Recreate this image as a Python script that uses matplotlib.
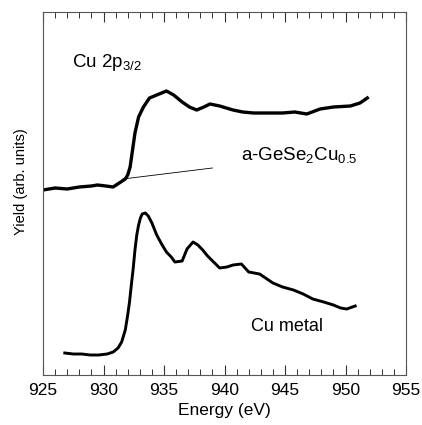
import matplotlib
matplotlib.use("Agg")
import matplotlib.pyplot as plt
from matplotlib.ticker import MultipleLocator
from matplotlib import font_manager

plt.rcParams['font.family'] = ['Liberation Sans', 'DejaVu Sans']
plt.rcParams['mathtext.default'] = 'regular'

# a-GeSe2Cu0.5 spectrum (energy eV, yield arb.)
gese_e = [925.0, 926.0, 927.0, 928.0, 929.0, 929.5, 930.2, 930.8, 931.3, 931.8, 932.0,
          932.2, 932.4, 932.6, 932.9, 933.3, 933.8, 934.4, 935.2, 935.8, 936.5, 937.1,
          937.7, 938.3, 938.8, 939.6, 940.7, 941.5, 942.4, 943.5, 944.8, 945.8, 946.8,
          947.9, 949.0, 950.4, 951.2, 951.8]
gese_y = [185, 187, 186, 188, 189, 190, 189, 188, 192, 196, 200,
          208, 225, 242, 258, 268, 277, 280, 284, 280, 273, 268,
          265, 268, 271, 269, 265, 263, 262, 262, 262, 263, 261,
          266, 268, 269, 272, 277]

# linear background under the a-GeSe2Cu0.5 edge
bg_e = [931.6, 939.0]
bg_y = [196, 207]

# Cu metal spectrum
cu_e = [926.8, 927.5, 928.2, 928.9, 929.6, 930.3, 930.8, 931.2, 931.5, 931.8, 932.0,
        932.15, 932.3, 932.45, 932.6, 932.75, 932.9, 933.05, 933.2, 933.45, 933.7,
        934.0, 934.4, 934.8, 935.2, 935.6, 935.9, 936.5, 936.9, 937.4, 937.8, 938.2,
        938.6, 939.1, 939.6, 940.2, 940.7, 941.4, 942.0, 942.9, 944.0, 944.8, 945.7,
        946.5, 947.3, 948.2, 949.0, 949.6, 950.1, 950.8]
cu_y = [22, 21, 21, 20, 20, 21, 23, 27, 33, 45, 60,
        73, 90, 106, 125, 140, 150, 157, 161, 162, 159,
        152, 140, 131, 123, 118, 113, 114, 126, 133, 130, 125,
        119, 113, 107, 108, 110, 111, 103, 101, 92, 88, 85,
        81, 76, 73, 70, 67, 66, 69]

names = {f.name for f in font_manager.fontManager.ttflist}
if 'Liberation Sans Narrow' in names:
    ylab_family = ['Liberation Sans Narrow']
    ylab_size = 12.5
else:
    ylab_family = ['Liberation Sans']
    ylab_size = 10.5

fig = plt.figure(figsize=(4.22, 4.25), dpi=100)
ax = fig.add_axes([43/422, 50/425, 363/422, 363/425])

ax.plot(gese_e, gese_y, color='black', lw=2.4)
ax.plot(bg_e, bg_y, color='black', lw=0.6)
ax.plot(cu_e, cu_y, color='black', lw=2.1)

ax.set_xlim(925, 955)
ax.set_ylim(0, 363)
ax.xaxis.set_major_locator(MultipleLocator(5))
ax.xaxis.set_minor_locator(MultipleLocator(1))
ax.tick_params(axis='x', which='both', direction='in', top=True, bottom=True,
               labelsize=12.5, pad=6, color='#333333')
ax.tick_params(axis='x', which='major', length=7, width=0.8)
ax.tick_params(axis='x', which='minor', length=4, width=0.7)
ax.set_yticks([])
for s in ax.spines.values():
    s.set_color('#555555')
    s.set_linewidth(0.8)

ax.set_xlabel('Energy (eV)', fontsize=12.5, labelpad=3)
ax.set_ylabel('Yield (arb. units)', fontsize=ylab_size, family=ylab_family)
ax.yaxis.set_label_coords(-0.042, 0.534)

ax.text(0.08, 0.86, 'Cu 2p$_{3/2}$', transform=ax.transAxes, fontsize=13.5, va='center')
ax.text(0.545, 0.605, 'a-GeSe$_2$Cu$_{0.5}$', transform=ax.transAxes, fontsize=13.5, va='center')
ax.text(0.573, 0.133, 'Cu metal', transform=ax.transAxes, fontsize=13, va='center')

fig.savefig('out.png', dpi=100)
